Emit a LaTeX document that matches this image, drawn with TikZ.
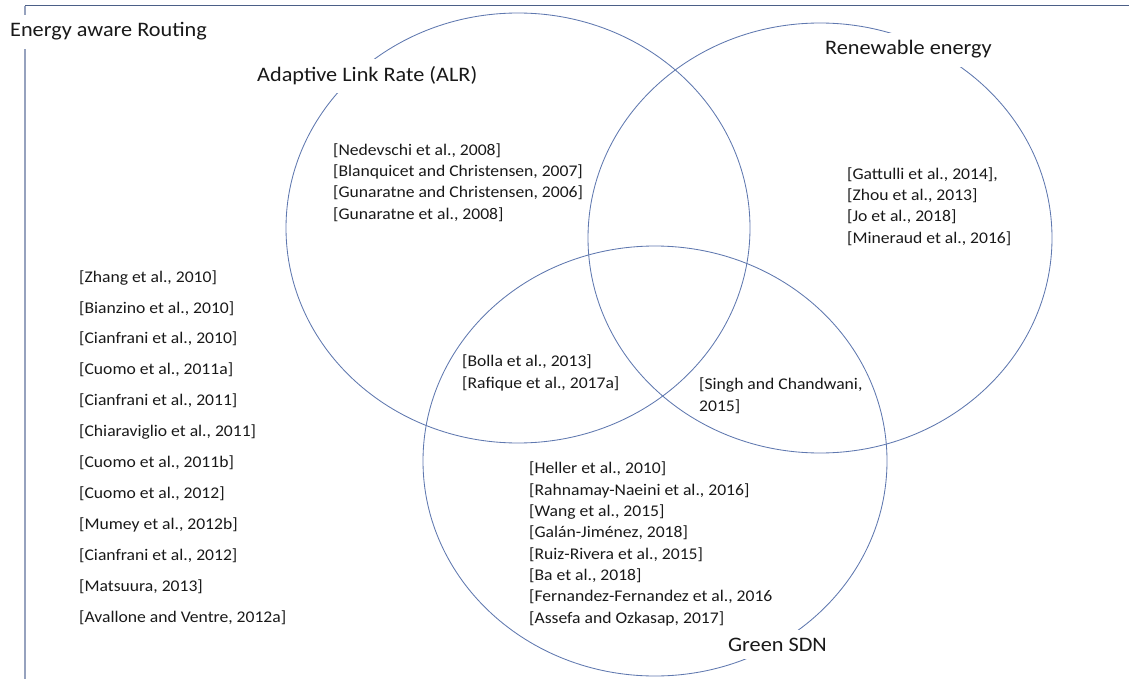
\documentclass[tikz,border=0pt]{standalone}
\usepackage{fontspec}
\setmainfont{Carlito}[FakeStretch=1.08]
\usepackage{tikz}

\definecolor{vennline}{RGB}{95,120,175}
\definecolor{frametop}{RGB}{75,95,135}
\definecolor{frameside}{RGB}{150,162,190}
\definecolor{inktext}{RGB}{25,25,25}

\tikzset{
  venn/.style={vennline, line width=0.85pt},
  setlabel/.style={anchor=base west, fill=white, inner xsep=2pt, inner ysep=8pt,
    text=inktext, font=\fontsize{20.6}{24}\selectfont},
  reflist/.style={anchor=base west, align=left, inner sep=0pt,
    text=inktext, font=\fontsize{16.3}{21.3}\selectfont},
}

\begin{document}
\begin{tikzpicture}[x=1pt,y=-1pt]
    \useasboundingbox (0,0) rectangle (1129,679);
    % Frame
    \draw[frameside, line width=2pt] (25,679) -- (25,6);
    \draw[frametop, line width=1pt] (25,6) -- (1129,6);
    % Sets
    \draw[venn] (518,228) ellipse [x radius=232pt, y radius=215pt]; % ALR
    \draw[venn] (820,238) ellipse [x radius=232pt, y radius=215pt]; % Renewable
    \draw[venn] (655,461) ellipse [x radius=232pt, y radius=215pt]; % Green SDN
    % Set labels
    \node[setlabel] (routing) at (8,37) {Energy aware Routing};
    \node[setlabel] (alr) at (255,82) {Adaptive Link Rate (ALR)};
    \node[setlabel] (renew) at (823,55) {Renewable energy};
    \node[setlabel] (sdn) at (726,651) {Green SDN};
    % References (placed at the baseline of the last line)
    \node[reflist] (alrrefs) at (333,219) {{[Nedevschi et al., 2008]}\\
      {[Blanquicet and Christensen, 2007]}\\
      {[Gunaratne and Christensen, 2006]}\\
      {[Gunaratne et al., 2008]}};
    \node[reflist] (renewrefs) at (847,243) {{[Gattulli et al., 2014],}\\
      {[Zhou et al., 2013]}\\
      {[Jo et al., 2018]}\\
      {[Mineraud et al., 2016]}};
    \node[reflist] (alrsdn) at (462,388) {{[Bolla et al., 2013]}\\
      {[Rafique et al., 2017a]}};
    \node[reflist] (renewsdn) at (699,411) {{[Singh and Chandwani,}\\
      {2015]}};
    \node[reflist] (sdnrefs) at (529,623) {{[Heller et al., 2010]}\\
      {[Rahnamay-Naeini et al., 2016]}\\
      {[Wang et al., 2015]}\\
      {[Galán-Jiménez, 2018]}\\
      {[Ruiz-Rivera et al., 2015]}\\
      {[Ba et al., 2018]}\\
      {[Fernandez-Fernandez et al., 2016}\\
      {[Assefa and Ozkasap, 2017]}};
    % Routing only
    \node[reflist, font=\fontsize{16.3}{30.9}\selectfont] (routingrefs) at (79,622)
      {{[Zhang et al., 2010]}\\
      {[Bianzino et al., 2010]}\\
      {[Cianfrani et al., 2010]}\\
      {[Cuomo et al., 2011a]}\\
      {[Cianfrani et al., 2011]}\\
      {[Chiaraviglio et al., 2011]}\\
      {[Cuomo et al., 2011b]}\\
      {[Cuomo et al., 2012]}\\
      {[Mumey et al., 2012b]}\\
      {[Cianfrani et al., 2012]}\\
      {[Matsuura, 2013]}\\
      {[Avallone and Ventre, 2012a]}};
\end{tikzpicture}
\end{document}
